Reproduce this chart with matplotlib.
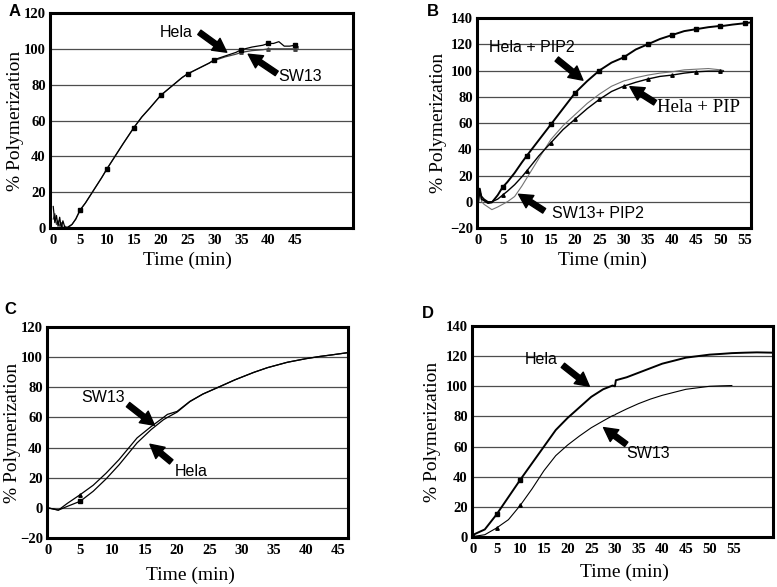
import numpy as np
import matplotlib
matplotlib.use("Agg")
import matplotlib.pyplot as plt

# Panel A: Hela vs SW13
a_t = [0, 0.3, 0.6, 0.9, 1.2, 1.5, 1.8, 2.2, 2.7, 3.5, 4.2, 5, 6, 7.5, 9, 10, 11.5, 13, 15, 16.5,
       18, 20, 22, 24, 25, 27, 29, 30, 32, 34, 35, 37, 39, 40, 41, 42, 43, 44, 45, 45.6]
a_hela = [12, 3, 7, 1, 6, 0, 4, 0, 0.5, 2, 5, 10, 14, 21, 28, 33, 40, 47, 56, 62,
          67, 74, 79, 84, 86, 89, 92, 94, 96, 98, 99.5, 101, 102, 103, 103, 104, 101.5, 101.5, 102, 101]
a_sw13 = [5, 8, 2, 4, 1, 3, 0, 1, 0, 2, 5, 10, 14, 21, 28, 33, 40, 47, 56, 62,
          67, 74, 79, 84, 86, 89, 92, 93.5, 95.5, 97, 98, 99, 99.5, 100, 100, 100, 100, 100, 100, 100]

# Panel B: PIP2 / PIP
b_t = [0, 0.3, 0.7, 1.2, 2, 2.8, 4, 5, 6, 7.5, 9, 10, 12.5, 15, 17.5, 20, 22.5, 25, 27.5, 30,
       32.5, 35, 37.5, 40, 42.5, 45, 47.5, 50, 50.6, 52.5, 55, 56]
b_hela_pip2 = [0, 10, 2, 1, -1, -0.5, 5, 11, 15, 22, 30, 35, 47, 59, 71, 83, 92, 100, 106, 110,
               116, 120, 124, 127, 130, 131.5, 133, 134, 134, 135, 136, 136.5]
b_hela_pip = [3, 8, 4, 2, 0, 0, 2, 5, 8, 13, 19, 23.5, 35, 45, 55, 63, 71, 78, 84, 88,
              91, 93.5, 95.5, 96.5, 98, 99, 99.5, 99.5, 99.5, np.nan, np.nan, np.nan]
b_sw13_pip2 = [5, 9, 0, -2, -4, -6, -4, -2, 0, 4, 12, 18, 33, 47.5, 58, 66.5, 75, 82, 88, 92,
               94.5, 96.5, 98, 99, 100.5, 101, 101.5, 100.5, 100, np.nan, np.nan, np.nan]

# Panel C: Hela vs SW13
c_t = [0, 1.6, 3, 5, 7, 9, 11, 13.8, 16, 17.9, 18.5, 20, 22, 24, 26.7, 29, 31.9, 34, 37.1, 40, 42.2, 44, 46.5]
c_sw13 = [0, -1.5, 3, 8.8, 15, 23, 32, 46.4, 54, 60, 62, 64, 70.7, 75.5, 80.6, 85, 89.9, 93, 96.6, 99, 100.5, 101.5, 103]
c_hela = [0, -1.5, 1, 4.4, 11, 19.2, 28.5, 43.1, 52, 58.5, 60, 63.5, 70.5, 75.5, 80.6, 85, 89.9, 93, 96.6, 99, 100.5, 101.5, 103]

# Panel D: Hela vs SW13
d_t = [0, 0.4, 2.5, 5, 7.5, 10, 12.5, 15, 17.5, 20, 22.5, 25, 27.5, 29.5, 30, 30.2, 32.5, 35, 37.5,
       40, 42.5, 45, 47.5, 50, 52.5, 54.7, 57.5, 60, 63.4]
d_hela = [0, 2, 5, 15, 26.5, 38, 49, 60, 71, 79, 86, 93, 98, 100.5, 100, 104, 106, 109, 112,
          115, 117, 119, 120, 121, 121.5, 122, 122.3, 122.5, 122.3]
d_sw13 = [0, 0.5, 1.5, 6, 11.5, 21, 32, 44, 54, 61, 67, 72.5, 77, 80.5, 81, 81.5, 85, 88.5, 91.5,
          94, 96, 98, 99, 100, 100.3, 100.5, np.nan, np.nan, np.nan]

W, H = 777, 587
fig = plt.figure(figsize=(W / 100, H / 100), dpi=100)

serif = "Liberation Serif"
sans = "Liberation Sans"


def make_axes(box, xlim, ylim, xticks, yticks, ylab_x, xlab_xy):
    l, t, r, b = box
    ax = fig.add_axes([l / W, 1 - b / H, (r - l) / W, (b - t) / H])
    ax.set_xlim(*xlim)
    ax.set_ylim(*ylim)
    ax.set_xticks(xticks)
    ax.set_yticks(yticks)
    ax.tick_params(length=0, labelsize=10.5)
    ax.tick_params(axis="x", pad=4)
    ax.tick_params(axis="y", pad=3)
    for lab in ax.get_xticklabels() + ax.get_yticklabels():
        lab.set_fontfamily(serif)
        lab.set_fontweight("bold")
    ax.yaxis.grid(True, color="0.3", lw=0.9)
    ax.set_axisbelow(True)
    for s in ax.spines.values():
        s.set_linewidth(2.2)
    ax.set_ylabel("% Polymerization", fontfamily=serif, fontsize=14, va="center")
    ax.yaxis.set_label_coords(ylab_x, 0.5)
    ax.set_xlabel("Time (min)", fontfamily=serif, fontsize=14, va="center")
    ax.xaxis.set_label_coords(*xlab_xy)
    return ax


def arrow(ax, tail, head):
    ax.annotate("", xy=head, xytext=tail,
                arrowprops=dict(arrowstyle="simple,head_length=0.7,head_width=0.75,tail_width=0.28",
                                fc="k", ec="k", mutation_scale=14, shrinkA=0, shrinkB=0))


def marks(t, step=5):
    return [(x > 0) and (abs(x / step - round(x / step)) < 1e-6) for x in t]


# ---- A
axA = make_axes((50, 13, 353, 228), (-0.6, 55.8), (0, 120), range(0, 50, 5), range(0, 121, 20),
                -0.115, (0.455, -0.15))
axA.plot(a_t, a_sw13, color="0.25", lw=0.9, marker="^", ms=2.5, markevery=marks(a_t))
axA.plot(a_t, a_hela, color="k", lw=0.9, marker="s", ms=2.5, markevery=marks(a_t))
axA.text(26, 109, "Hela", fontfamily=sans, fontsize=11.5, ha="right", va="center")
arrow(axA, (27.2, 109.2), (32.3, 98.1))
axA.text(41.8, 84.5, "SW13", fontfamily=sans, fontsize=11.5, ha="left", va="center")
arrow(axA, (41.6, 86.3), (36.3, 97.0))

# ---- B
axB = make_axes((477, 18, 751, 228), (-0.27, 56.3), (-20, 140), range(0, 60, 5), range(-20, 141, 20),
                -0.14, (0.456, -0.152))
axB.plot(b_t, b_sw13_pip2, color="0.45", lw=0.8)
axB.plot(b_t, b_hela_pip, color="k", lw=1.0, marker="^", ms=2.5, markevery=marks(b_t))
axB.plot(b_t, b_hela_pip2, color="k", lw=1.4, marker="s", ms=2.5, markevery=marks(b_t))
axB.text(11, 117.6, "Hela + PIP2", fontfamily=sans, fontsize=11.5, ha="center", va="center")
arrow(axB, (16.2, 108.7), (21.6, 92.6))
axB.text(45.4, 71.6, "Hela + PIP", fontfamily=serif, fontsize=13.5, ha="center", va="center")
arrow(axB, (36.5, 75.5), (31.3, 87.7))
axB.text(24.7, -8.9, "SW13+ PIP2", fontfamily=sans, fontsize=11.5, ha="center", va="center")
arrow(axB, (13.6, -6.9), (8.3, 5.7))

# ---- C (markers only near t = 5)
c_mark = [i == 3 for i in range(len(c_t))]
axC = make_axes((47, 327, 348, 538), (-0.16, 46.5), (-20, 120), range(0, 50, 5), range(-20, 121, 20),
                -0.113, (0.475, -0.175))
axC.plot(c_t, c_sw13, color="k", lw=0.9, marker="^", ms=2.5, markevery=c_mark)
axC.plot(c_t, c_hela, color="k", lw=0.9, marker="s", ms=2.5, markevery=c_mark)
axC.text(8.5, 73.5, "SW13", fontfamily=sans, fontsize=11.5, ha="center", va="center")
arrow(axC, (12.4, 68.5), (16.5, 54.8))
axC.text(22.2, 24, "Hela", fontfamily=sans, fontsize=11.5, ha="center", va="center")
arrow(axC, (19.1, 30.5), (15.8, 42.2))

# ---- D (markers at t = 5 and 10)
d_mark = [i in (3, 5) for i in range(len(d_t))]
axD = make_axes((472, 326, 773, 537), (-0.2, 63.4), (0, 140), range(0, 60, 5), range(0, 141, 20),
                -0.13, (0.508, -0.169))
axD.plot(d_t, d_sw13, color="k", lw=0.8, marker="^", ms=2.5, markevery=d_mark)
axD.plot(d_t, d_hela, color="k", lw=1.4, marker="s", ms=2.5, markevery=d_mark)
axD.text(14.5, 117.7, "Hela", fontfamily=sans, fontsize=11.5, ha="center", va="center")
arrow(axD, (19.0, 113.9), (24.6, 100))
axD.text(37.1, 55.3, "SW13", fontfamily=sans, fontsize=11.5, ha="center", va="center")
arrow(axD, (32.4, 61.5), (27.6, 72.6))

# panel letters
for letter, (px, py) in {"A": (15, 11), "B": (433, 11), "C": (10, 309), "D": (428, 313)}.items():
    fig.text(px / W, 1 - py / H, letter, fontfamily=sans, fontweight="bold", fontsize=12,
             ha="center", va="center")

fig.savefig("out.png", dpi=100)
